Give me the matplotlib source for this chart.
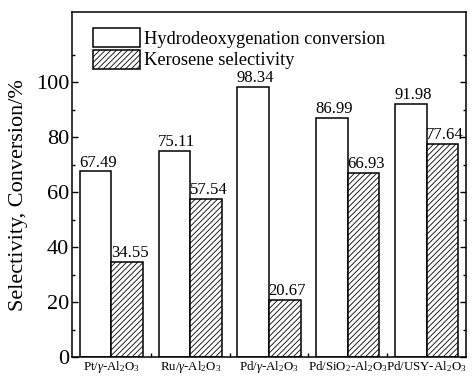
import numpy as np
import matplotlib
matplotlib.use('Agg')
import matplotlib.pyplot as plt

plt.rcParams['font.family'] = 'Liberation Serif'
plt.rcParams['mathtext.fontset'] = 'custom'
plt.rcParams['mathtext.rm'] = 'Liberation Serif'
plt.rcParams['mathtext.it'] = 'Liberation Serif:italic'
plt.rcParams['hatch.linewidth'] = 0.6

catalysts = [r'Pt/$\gamma$-Al$_2$O$_3$', r'Ru/$\gamma$-Al$_2$O$_3$', r'Pd/$\gamma$-Al$_2$O$_3$',
             r'Pd/SiO$_2$-Al$_2$O$_3$', r'Pd/USY-Al$_2$O$_3$']
conversion = [67.49, 75.11, 98.34, 86.99, 91.98]
selectivity = [34.55, 57.54, 20.67, 66.93, 77.64]

fig = plt.figure(figsize=(4.76, 3.76), dpi=100)
ax = fig.add_axes([0.1513, 0.0505, 0.8277, 0.9175])

x = np.arange(len(catalysts)) + 0.5
w = 0.4
b1 = ax.bar(x - w/2, conversion, w, color='white', edgecolor='black', linewidth=1.1,
            label='Hydrodeoxygenation conversion')
b2 = ax.bar(x + w/2, selectivity, w, color='white', edgecolor='black', linewidth=1.1,
            hatch='//////', label='Kerosene selectivity')

for rects, vals in ((b1, conversion), (b2, selectivity)):
    for r, v in zip(rects, vals):
        ax.text(r.get_x() + r.get_width()/2 + 0.03, v + 0.3, '%.2f' % v,
                ha='center', va='bottom', fontsize=12)

ax.set_xlim(0, 5)
ax.set_ylim(0, 125.5)
ax.set_yticks([0, 20, 40, 60, 80, 100])
ax.set_yticks(np.arange(10, 125, 20), minor=True)
ax.set_xticks(x)
ax.set_xticklabels(catalysts, fontsize=9.3)
ax.set_xticks([1, 2, 3, 4], minor=True)
ax.tick_params(axis='x', which='major', length=0, pad=1.5)
ax.tick_params(axis='x', which='minor', direction='in', length=3, width=1)
ax.tick_params(axis='y', which='major', direction='in', length=4, width=1, labelsize=16, right=True, pad=2)
ax.tick_params(axis='y', which='minor', direction='in', length=2, width=1, right=True)
for s in ax.spines.values():
    s.set_linewidth(1.1)

ax.set_ylabel('Selectivity, Conversion/%', fontsize=16)
ax.yaxis.set_label_coords(-0.112, 0.47)

ax.legend(loc='upper left', frameon=False, fontsize=13.2, handlelength=2.6, handleheight=1.2,
          handletextpad=0.2, labelspacing=0.1, borderaxespad=0.3, bbox_to_anchor=(0.02, 0.99))

fig.savefig('out.png', dpi=100)
